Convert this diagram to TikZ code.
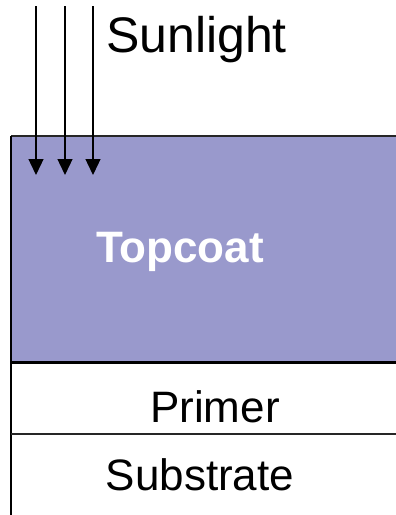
\documentclass[tikz,border=0pt]{standalone}
\usepackage{fontspec}
\setmainfont{Liberation Sans}
\usetikzlibrary{arrows.meta}
\definecolor{coat}{RGB}{153,153,204}
\tikzset{
  layerline/.style={line width=2pt, black!85},
  ray/.style={line width=1.3pt, -{Triangle[width=15pt,length=16pt]}},
  label/.style={inner sep=0pt, font=\fontsize{44}{48}\selectfont},
}
\begin{document}
\begin{tikzpicture}[x=1pt,y=-1pt]
\useasboundingbox (0,0) rectangle (396,515);
% coating layers
\fill[coat] (11,136) rectangle (396,362);
\draw[layerline] (11,136) -- (396,136);
\draw[line width=1.5pt] (11,136) -- (11,515);
\draw[line width=3pt] (11,362) -- (396,362);
\draw[layerline] (11,434) -- (396,434);
% labels
\node[label, anchor=base west, font=\fontsize{50}{54}\selectfont] (sun) at (106,52) {Sunlight};
\node[label, anchor=base, font=\fontsize{44}{48}\selectfont\bfseries, text=white] (top) at (180,262) {Topcoat};
\node[label, anchor=base] (pri) at (215,422) {Primer};
\node[label, anchor=base] (sub) at (200,490) {Substrate};
% incoming light rays
\foreach \i/\x in {1/36,2/65,3/93} {
  \coordinate (s\i) at (\x,6);
  \coordinate (e\i) at (\x,175);
  \draw[ray] (s\i) -- (e\i);
}
\end{tikzpicture}
\end{document}
